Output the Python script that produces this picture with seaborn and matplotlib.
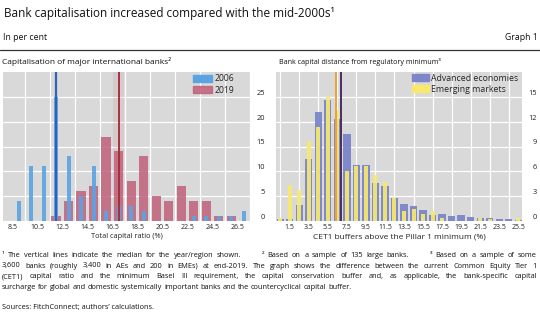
import matplotlib
matplotlib.use("Agg")
import matplotlib.pyplot as plt
import seaborn as sns
from matplotlib.patches import Patch
from matplotlib.lines import Line2D

# ---------------- data ----------------
left_bins = [9, 10, 11, 12, 13, 14, 15, 16, 17, 18, 19, 20, 21, 22, 23, 24, 25, 26, 27]
cap_2006 = [4, 11, 11, 25, 13, 5, 11, 2, 3, 3, 2, 0, 0, 0, 1, 1, 1, 1, 2]
cap_2019 = [0, 0, 0, 1, 4, 6, 7, 17, 14, 8, 13, 5, 4, 7, 4, 4, 1, 1, 0]
left_ticks = [8.5, 10.5, 12.5, 14.5, 16.5, 18.5, 20.5, 22.5, 24.5, 26.5]
left_yticks = [0, 5, 10, 15, 20, 25]
median_2006 = 12.0
median_2019 = 17.0

right_bins = [0.5, 1.5, 2.5, 3.5, 4.5, 5.5, 6.5, 7.5, 8.5, 9.5, 10.5, 11.5, 12.5,
              13.5, 14.5, 15.5, 16.5, 17.5, 18.5, 19.5, 20.5, 21.5, 22.5, 23.5, 24.5, 25.5]
adv_econ = [0.2, 0.3, 1.9, 7.5, 13.2, 14.6, 12.3, 10.5, 6.8, 6.8, 4.6, 4.2, 2.8,
            2.1, 1.8, 1.3, 0.7, 0.85, 0.6, 0.7, 0.45, 0.35, 0.35, 0.2, 0.3, 0.15]
em_mkts = [0.35, 4.3, 3.8, 9.7, 11.3, 15.0, 13.4, 6.1, 6.6, 6.6, 5.6, 4.7, 2.8,
           1.2, 1.5, 0.8, 1.2, 0.4, 0, 0, 0, 0.35, 0.3, 0, 0, 0.35]
right_ticks = [1.5, 3.5, 5.5, 7.5, 9.5, 11.5, 13.5, 15.5, 17.5, 19.5, 21.5, 23.5, 25.5]
right_yticks = [0, 3, 6, 9, 12, 15]
median_adv = 6.87
median_em = 6.33

title = "Bank capitalisation increased compared with the mid-2000s\u00b9"
left_title = "Capitalisation of major international banks\u00b2"
right_title = "Bank capital distance from regulatory minimum\u00b3"
left_xlabel = "Total capital ratio (%)"
right_xlabel = "CET1 buffers above the Pillar 1 minimum (%)"
foot_lines = [
    "\u00b9 The vertical lines indicate the median for the year/region shown.      \u00b2 Based on a sample of 135 large banks.      \u00b3 Based on a sample of some",
    "3,600 banks (roughly 3,400 in AEs and 200 in EMEs) at end-2019. The graph shows the difference between the current Common Equity Tier 1",
    "(CET1) capital ratio and the minimum Basel III requirement, the capital conservation buffer and, as applicable, the bank-specific capital",
    "surcharge for global and domestic systemically important banks and the countercyclical capital buffer.",
]
sources = "Sources: FitchConnect; authors\u2019 calculations."

# ---------------- style ----------------
BG = "#D9D9D9"
C2006 = "#5BA3E2"
C2019 = "#C0607A"
CADV = "#7C86C8"
CEM = "#F8E96C"
sns.set_theme(style="darkgrid", rc={"axes.facecolor": BG, "grid.color": "white",
                                    "grid.linewidth": 0.9})
plt.rcParams["font.family"] = ["Open Sans", "DejaVu Sans"]

W, H = 540, 321
fig = plt.figure(figsize=(W / 100, H / 100), dpi=100)
fig.patch.set_facecolor("white")


def rect(x0, y0, x1, y1):
    return [x0 / W, 1 - y1 / H, (x1 - x0) / W, (y1 - y0) / H]


axL = fig.add_axes(rect(3, 72, 250, 221))
axR = fig.add_axes(rect(276, 72, 522, 221))

# left panel
sns.barplot(x=left_bins, y=cap_2019, native_scale=True, orient="x", width=0.75,
            color=C2019, saturation=1, alpha=0.85, errorbar=None, ax=axL,
            linewidth=0, zorder=2)
sns.barplot(x=left_bins, y=cap_2006, native_scale=True, orient="x", width=0.34,
            color=C2006, saturation=1, alpha=0.9, errorbar=None, ax=axL,
            linewidth=0, zorder=3)
axL.axvspan(median_2019 - 0.42, median_2019 + 0.42, color=C2019, alpha=0.12, lw=0, zorder=1)
axL.axvline(median_2006, color="#2E62B8", lw=1.6, zorder=4)
axL.axvline(median_2019, color="#A12A30", lw=1.3, zorder=4)
axL.set_xlim(7.75, 27.5)
axL.set_ylim(0, 30)
axL.set_xticks(left_ticks)
axL.set_xticklabels([f"{t:.1f}" for t in left_ticks])
axL.set_xticks([t + 1 for t in left_ticks], minor=True)
axL.set_yticks(left_yticks)

# right panel
sns.barplot(x=right_bins, y=adv_econ, native_scale=True, orient="x", width=0.76,
            color=CADV, saturation=1, alpha=0.95, errorbar=None, ax=axR,
            linewidth=0, zorder=2)
sns.barplot(x=right_bins, y=em_mkts, native_scale=True, orient="x", width=0.42,
            color=CEM, saturation=1, alpha=0.92, errorbar=None, ax=axR,
            linewidth=0, zorder=3)
axR.axvline(median_em, color="#F0A030", lw=1.4, zorder=4)
axR.axvline(median_adv, color="#4A2C6C", lw=1.4, zorder=4)
axR.set_xlim(0.05, 25.9)
axR.set_ylim(0, 18)
axR.set_xticks(right_ticks)
axR.set_xticklabels([f"{t:.1f}" for t in right_ticks])
axR.set_xticks([t + 1 for t in right_ticks[:-1]] + [0.5], minor=True)
axR.set_yticks(right_yticks)

for ax, xl, xls in ((axL, left_xlabel, 5.3), (axR, right_xlabel, 6.0)):
    ax.grid(False, axis="x", which="major")
    ax.grid(True, axis="x", which="minor", color="white", lw=0.9)
    ax.grid(True, axis="y", which="major", color="white", lw=0.9)
    ax.set_axisbelow(True)
    for s in ax.spines.values():
        s.set_visible(False)
    ax.yaxis.tick_right()
    ax.tick_params(axis="both", which="both", length=0)
    ax.tick_params(axis="x", labelsize=5.0, pad=2.5, colors="#222222")
    ax.tick_params(axis="y", labelsize=5.4, pad=11 if ax is axL else 10.5, colors="#222222")
    for lbl in ax.get_yticklabels():
        lbl.set_horizontalalignment("right")
        lbl.set_verticalalignment("bottom")
    ax.set_xlabel(xl, fontsize=xls, labelpad=1.2, color="#222222")
    ax.set_ylabel("")

axL.legend(handles=[Patch(color=C2006, label="2006"), Patch(color=C2019, alpha=0.85, label="2019")],
           loc="upper right", bbox_to_anchor=(0.94, 0.99), frameon=False, fontsize=6.2,
           handlelength=2.2, handleheight=0.8, labelspacing=0.25, handletextpad=0.25,
           borderpad=0.1, borderaxespad=0)
axR.legend(handles=[Patch(color=CADV, label="Advanced economies"), Patch(color=CEM, label="Emerging markets")],
           loc="upper right", bbox_to_anchor=(0.99, 0.995), frameon=False, fontsize=6.3,
           handlelength=2.0, handleheight=0.8, labelspacing=0.25, handletextpad=0.25,
           borderpad=0.1, borderaxespad=0)

# header texts
fig.text(4 / W, 1 - 13 / H, title, fontsize=8.5, va="center", color="#111111")
fig.text(3 / W, 1 - 37 / H, "In per cent", fontsize=6.3, va="center", color="#111111")
fig.text(538 / W, 1 - 37 / H, "Graph 1", fontsize=6.3, va="center", ha="right", color="#111111")
fig.add_artist(Line2D([0, 1], [1 - 50 / H, 1 - 50 / H], color="#333333", lw=0.9))
fig.text(2 / W, 1 - 62 / H, left_title, fontsize=6.0, va="center", color="#111111")
fig.text(279 / W, 1 - 62 / H, right_title, fontsize=5.1, va="center", color="#111111")

# footnotes with justification
renderer = fig.canvas.get_renderer()
FS = 5.35


def place_line(text, y, x0=2, x1=537, justify=True):
    tokens = text.split(" ")
    words, weights = [], []
    w = 1
    for t in tokens:
        if t == "":
            w += 1
        else:
            if words:
                weights.append(w)
            words.append(t)
            w = 1
    arts = [fig.text(0, 1 - y / H, wd, fontsize=FS, va="center", color="#111111") for wd in words]
    widths = [a.get_window_extent(renderer).width for a in arts]
    if justify:
        unit = ((x1 - x0) - sum(widths)) / sum(weights)
    else:
        a1 = fig.text(0, 0, "a a", fontsize=FS)
        a2 = fig.text(0, 0, "aa", fontsize=FS)
        unit = a1.get_window_extent(renderer).width - a2.get_window_extent(renderer).width
        a1.remove()
        a2.remove()
    x = x0
    for i, (a, wd) in enumerate(zip(arts, widths)):
        a.set_x(x / W)
        x += wd + (unit * weights[i] if i < len(weights) else 0)


ys = [255.5, 266.0, 276.7, 287.5]
for i, (line, y) in enumerate(zip(foot_lines, ys)):
    place_line(line, y, justify=(i < 3))
fig.text(2 / W, 1 - 307 / H, sources, fontsize=FS, va="center", color="#111111")

fig.savefig("out.png", dpi=100)
